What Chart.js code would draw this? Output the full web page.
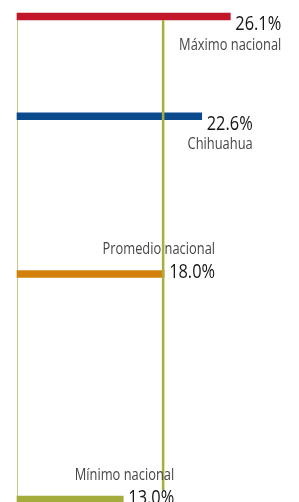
<!DOCTYPE html>
<html>
<head>
<meta charset="utf-8">
<script src="https://cdn.jsdelivr.net/npm/chart.js@4.4.1/dist/chart.umd.min.js"></script>
<style>
  html, body { margin: 0; padding: 0; background: #ffffff; }
  canvas { display: block; }
</style>
</head>
<body>
<canvas id="chart" width="299" height="502"></canvas>
<script>
// ---- data ----
const categories = ['Máximo nacional', 'Chihuahua', 'Promedio nacional', 'Mínimo nacional'];
const values = [26.1, 22.6, 18.0, 13.0];
const valueLabels = ['26.1%', '22.6%', '18.0%', '13.0%'];
const averageValue = 18.0;

// ---- style ----
const barColors = ['#c2172b', '#0b4a8c', '#d3810c', '#a4ac3b'];
const FONT = '"Open Sans", "Noto Sans", sans-serif';
const VALUE_FONT = '19.5px ' + FONT;
const NAME_FONT = '16.5px ' + FONT;
const VALUE_SX = 0.84;   // condensed look
const NAME_SX = 0.78;

function textWidth(ctx, font, txt, sx) {
  ctx.font = font;
  return ctx.measureText(txt).width * sx;
}
function drawCondensed(ctx, font, txt, x, y, sx, align, color) {
  ctx.save();
  ctx.font = font;
  ctx.fillStyle = color;
  ctx.textAlign = align;
  ctx.textBaseline = 'alphabetic';
  ctx.translate(x, y);
  ctx.scale(sx, 1);
  ctx.fillText(txt, 0, 0);
  ctx.restore();
}

const overlay = {
  id: 'overlay',
  beforeDatasetsDraw(chart) {
    const ctx = chart.ctx;
    const xs = chart.scales.x;
    const meta = chart.getDatasetMeta(0);
    const top = meta.data[0];
    const yTop = top.y + top.height / 2;
    const x0 = Math.round(xs.getPixelForValue(0)) + 0.5;
    ctx.save();
    ctx.strokeStyle = '#c4c785';
    ctx.lineWidth = 1;
    ctx.beginPath();
    ctx.moveTo(x0, yTop);
    ctx.lineTo(x0, chart.height);
    ctx.stroke();
    ctx.restore();
  },
  afterDatasetsDraw(chart) {
    const ctx = chart.ctx;
    const xs = chart.scales.x;
    const meta = chart.getDatasetMeta(0);
    const top = meta.data[0];
    const bottom = meta.data[meta.data.length - 1];
    const yTop = top.y + top.height / 2;
    const yBot = bottom.y - bottom.height / 2 - 6;
    const xa = xs.getPixelForValue(averageValue);
    ctx.save();
    ctx.strokeStyle = '#a7ae3e';
    ctx.lineWidth = 2.5;
    ctx.beginPath();
    ctx.moveTo(xa - 1, yTop);
    ctx.lineTo(xa - 1, yBot);
    ctx.stroke();
    ctx.restore();

    meta.data.forEach((el, i) => {
      const xEnd = el.x;
      const yc = el.y;
      const w = textWidth(ctx, VALUE_FONT, valueLabels[i], VALUE_SX);
      const vx = xEnd + 5;
      let vBase, nBase;
      if (values[i] > averageValue) {
        vBase = yc + 13.5;
        nBase = vBase + 19.5;
      } else {
        vBase = yc + 4;
        nBase = vBase - 24;
      }
      drawCondensed(ctx, VALUE_FONT, valueLabels[i], vx, vBase, VALUE_SX, 'left', '#161615');
      drawCondensed(ctx, NAME_FONT, categories[i], vx + w, nBase, NAME_SX, 'right', '#474747');
    });
  }
};

new Chart(document.getElementById('chart'), {
  type: 'bar',
  data: {
    datasets: [{
      data: values.map(v => ({ x: v, y: v })),
      backgroundColor: barColors,
      borderWidth: 0,
      barThickness: 7,
      clip: false
    }]
  },
  options: {
    indexAxis: 'y',
    responsive: false,
    devicePixelRatio: 1,
    animation: false,
    layout: { padding: { left: 17, right: 0, top: 16.5, bottom: 2.5 } },
    scales: {
      x: { type: 'linear', min: 0, max: 34.5, bounds: 'data', display: false },
      y: { type: 'logarithmic', min: 13, max: 26.1, bounds: 'data', offset: false, display: false }
    },
    plugins: { legend: { display: false }, tooltip: { enabled: false } }
  },
  plugins: [overlay]
});
</script>
</body>
</html>
